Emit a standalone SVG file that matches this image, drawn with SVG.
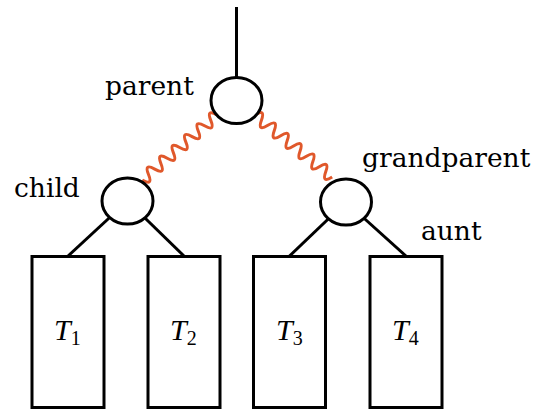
<svg xmlns="http://www.w3.org/2000/svg" width="555" height="413" viewBox="0 0 555 413">
<style>
.edge{stroke:#000;stroke-width:3;fill:none}
.wave{stroke:#E0582B;stroke-width:3;fill:none}
.node{fill:#fff;stroke:#000;stroke-width:3}
.lbl{font-family:"DejaVu Serif",serif;font-size:26.5px;fill:#000}
.t{font-family:"Liberation Serif",serif;font-style:italic;font-size:30px;fill:#000}
.sub{font-family:"Liberation Serif",serif;font-size:20px;font-style:normal}
</style>
<defs>
<path id="wv" d="M0,0 q4.125,-12 8.25,0 t8.25,0 t8.25,0 t8.25,0 t8.25,0 t8.25,0 t8.25,0 t8.25,0 t8.25,0 t8.25,0 t8.25,0 t8.25,0"/>
</defs>
<g id="connectors">
<line class="edge" x1="236.5" y1="7" x2="236.5" y2="100"/>
<line class="edge" x1="127.5" y1="201" x2="68" y2="256"/>
<line class="edge" x1="127.5" y1="201" x2="184" y2="256"/>
<line class="edge" x1="346" y1="202" x2="289.5" y2="256"/>
<line class="edge" x1="346" y1="202" x2="406" y2="256"/>
<use href="#wv" class="wave" transform="translate(255,115) rotate(38.8)"/>
<use href="#wv" class="wave" transform="translate(217,115) rotate(139) scale(1,-1)"/>
</g>
<g id="parent">
<ellipse class="node" cx="236.5" cy="100.5" rx="25.5" ry="23"/>
<text class="lbl" x="105" y="95">parent</text>
</g>
<g id="child">
<ellipse class="node" cx="127.5" cy="201" rx="25.5" ry="23"/>
<text class="lbl" x="14" y="197">child</text>
</g>
<g id="grandparent">
<ellipse class="node" cx="346" cy="202" rx="25.5" ry="23"/>
<text class="lbl" x="362" y="166.5">grandparent</text>
</g>
<g id="aunt">
<text class="lbl" x="421" y="240">aunt</text>
</g>
<g id="T1">
<rect class="node" x="32" y="256.5" width="72" height="151"/>
<text class="t" x="54" y="340">T<tspan class="sub" dy="5">1</tspan></text>
</g>
<g id="T2">
<rect class="node" x="148" y="256.5" width="72" height="151"/>
<text class="t" x="170" y="340">T<tspan class="sub" dy="5">2</tspan></text>
</g>
<g id="T3">
<rect class="node" x="253.5" y="256.5" width="72" height="151"/>
<text class="t" x="276" y="340">T<tspan class="sub" dy="5">3</tspan></text>
</g>
<g id="T4">
<rect class="node" x="370" y="256.5" width="72" height="151"/>
<text class="t" x="392" y="340">T<tspan class="sub" dy="5">4</tspan></text>
</g>
</svg>
